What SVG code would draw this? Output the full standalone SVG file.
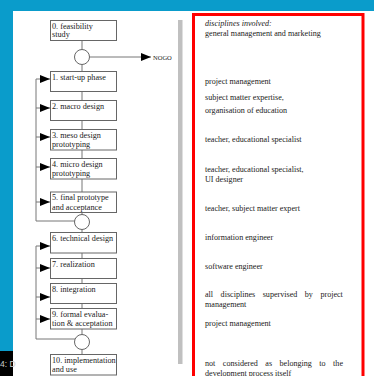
<svg xmlns="http://www.w3.org/2000/svg" width="374" height="376" viewBox="0 0 374 376">
<defs>
<style>
.bx{fill:#fff;stroke:#666;stroke-width:1}
.cn{fill:none;stroke:#777;stroke-width:1}
.t{font-family:"Liberation Serif","Times New Roman",serif;font-size:8.2px;fill:#1a1a1a}
.r{font-family:"Liberation Serif","Times New Roman",serif;font-size:8.1px;fill:#1a1a1a}
</style>
<marker id="ah" viewBox="0 0 10 8" refX="10" refY="4" markerWidth="10" markerHeight="8" markerUnits="userSpaceOnUse" orient="auto">
<path d="M0,0 L10,4 L0,8 Z" fill="#000"/>
</marker>
</defs>
<rect x="0" y="0" width="374" height="376" fill="#fff"/>
<rect x="0" y="0" width="374" height="11" fill="#0a9ccb"/>
<rect x="0" y="0" width="13" height="351" fill="#0a9ccb"/>
<rect x="0" y="351" width="13" height="25" fill="#000"/>
<text x="0" y="367" font-family="Liberation Sans,Arial,sans-serif" font-size="8.5" fill="#ccc">4: D</text>
<rect x="178" y="20" width="4.5" height="344" fill="#c0c0c0"/>
<rect x="193.5" y="14.5" width="169.5" height="370" fill="none" stroke="#f00" stroke-width="3"/>

<g id="connectors">
<line class="cn" x1="82" y1="40" x2="82" y2="49.5"/>
<line class="cn" x1="82" y1="64.5" x2="82" y2="71"/>
<line class="cn" x1="82" y1="91" x2="82" y2="100"/>
<line class="cn" x1="82" y1="120" x2="82" y2="129"/>
<line class="cn" x1="82" y1="150" x2="82" y2="158"/>
<line class="cn" x1="82" y1="179" x2="82" y2="192"/>
<line class="cn" x1="82" y1="212" x2="82" y2="214.5"/>
<line class="cn" x1="82" y1="229.5" x2="82" y2="232"/>
<line class="cn" x1="82" y1="253" x2="82" y2="258"/>
<line class="cn" x1="82" y1="278" x2="82" y2="283"/>
<line class="cn" x1="82" y1="303" x2="82" y2="308"/>
<line class="cn" x1="82" y1="329" x2="82" y2="334.5"/>
<line class="cn" x1="82" y1="349.5" x2="82" y2="354"/>
<line class="cn" x1="89.5" y1="57" x2="151" y2="57" marker-end="url(#ah)"/>
<polyline class="cn" points="75,221 36,221 36,79"/>
<line class="cn" x1="36" y1="79" x2="50" y2="79" marker-end="url(#ah)"/>
<line class="cn" x1="36" y1="108" x2="50" y2="108" marker-end="url(#ah)"/>
<line class="cn" x1="36" y1="137" x2="50" y2="137" marker-end="url(#ah)"/>
<line class="cn" x1="36" y1="167" x2="50" y2="167" marker-end="url(#ah)"/>
<line class="cn" x1="36" y1="202" x2="50" y2="202" marker-end="url(#ah)"/>
<polyline class="cn" points="75,339 36,339 36,246"/>
<line class="cn" x1="36" y1="246" x2="50" y2="246" marker-end="url(#ah)"/>
<line class="cn" x1="36" y1="268" x2="50" y2="268" marker-end="url(#ah)"/>
<line class="cn" x1="36" y1="297" x2="50" y2="297" marker-end="url(#ah)"/>
<line class="cn" x1="36" y1="319" x2="50" y2="319" marker-end="url(#ah)"/>
</g>

<g id="n0"><rect class="bx" x="50.5" y="20.5" width="66" height="20"/><text class="t" x="52" y="28.5">0. feasibility</text><text class="t" x="52" y="37">study</text></g>
<g id="c1"><circle class="bx" cx="82" cy="57" r="7.5"/></g>
<g id="nogo"><text x="153" y="59.5" font-family="Liberation Serif,serif" font-size="6.5" fill="#222">NOGO</text></g>
<g id="n1"><rect class="bx" x="50.5" y="71.5" width="66" height="20"/><text class="t" x="52" y="79.5">1. start-up phase</text></g>
<g id="n2"><rect class="bx" x="50.5" y="100.5" width="66" height="20"/><text class="t" x="52" y="108.5">2. macro design</text></g>
<g id="n3"><rect class="bx" x="50.5" y="129.5" width="66" height="20.5"/><text class="t" x="52" y="137.5">3. meso design</text><text class="t" x="52" y="147">prototyping</text></g>
<g id="n4"><rect class="bx" x="50.5" y="158.5" width="66" height="20.5"/><text class="t" x="52" y="166.5">4. micro design</text><text class="t" x="52" y="176">prototyping</text></g>
<g id="n5"><rect class="bx" x="50.5" y="192" width="66" height="20.5"/><text class="t" x="52" y="200">5. final prototype</text><text class="t" x="52" y="209.5">and acceptance</text></g>
<g id="c2"><circle class="bx" cx="82" cy="222" r="7.5"/></g>
<g id="n6"><rect class="bx" x="50.5" y="232.5" width="66" height="20.5"/><text class="t" x="52" y="240.5">6. technical design</text></g>
<g id="n7"><rect class="bx" x="50.5" y="258.5" width="66" height="20"/><text class="t" x="52" y="266.5">7. realization</text></g>
<g id="n8"><rect class="bx" x="50.5" y="283.5" width="66" height="20"/><text class="t" x="52" y="291.5">8. integration</text></g>
<g id="n9"><rect class="bx" x="50.5" y="308.5" width="66" height="20.5"/><text class="t" x="52" y="316.5">9. formal evalua-</text><text class="t" x="52" y="326">tion &amp; acceptation</text></g>
<g id="c3"><circle class="bx" cx="82" cy="342" r="7.5"/></g>
<g id="n10"><rect class="bx" x="50.5" y="354.5" width="66" height="20.5"/><text class="t" x="52" y="362.5">10. implementation</text><text class="t" x="52" y="372">and use</text></g>

<g id="disciplines">
<text class="r" x="205" y="26" font-style="italic">disciplines involved:</text>
<text class="r" x="205" y="36">general management and marketing</text>
<text class="r" x="205" y="84">project management</text>
<text class="r" x="205" y="100">subject matter expertise,</text>
<text class="r" x="205" y="113">organisation of education</text>
<text class="r" x="205" y="142">teacher, educational specialist</text>
<text class="r" x="205" y="172">teacher, educational specialist,</text>
<text class="r" x="205" y="182">UI designer</text>
<text class="r" x="205" y="211">teacher, subject matter expert</text>
<text class="r" x="205" y="240">information engineer</text>
<text class="r" x="205" y="269">software engineer</text>
<text class="r" y="297"><tspan x="205">all</tspan><tspan x="220.6">disciplines</tspan><tspan x="262.7">supervised</tspan><tspan x="304.8">by</tspan><tspan x="320.4">project</tspan></text>
<text class="r" x="205" y="307">management</text>
<text class="r" x="205" y="326">project management</text>
<text class="r" y="366"><tspan x="205">not</tspan><tspan x="222.8">considered</tspan><tspan x="265.3">as</tspan><tspan x="279.5">belonging</tspan><tspan x="319.3">to</tspan><tspan x="333.1">the</tspan></text>
<text class="r" x="205" y="375.5">development process itself</text>
</g>
</svg>
